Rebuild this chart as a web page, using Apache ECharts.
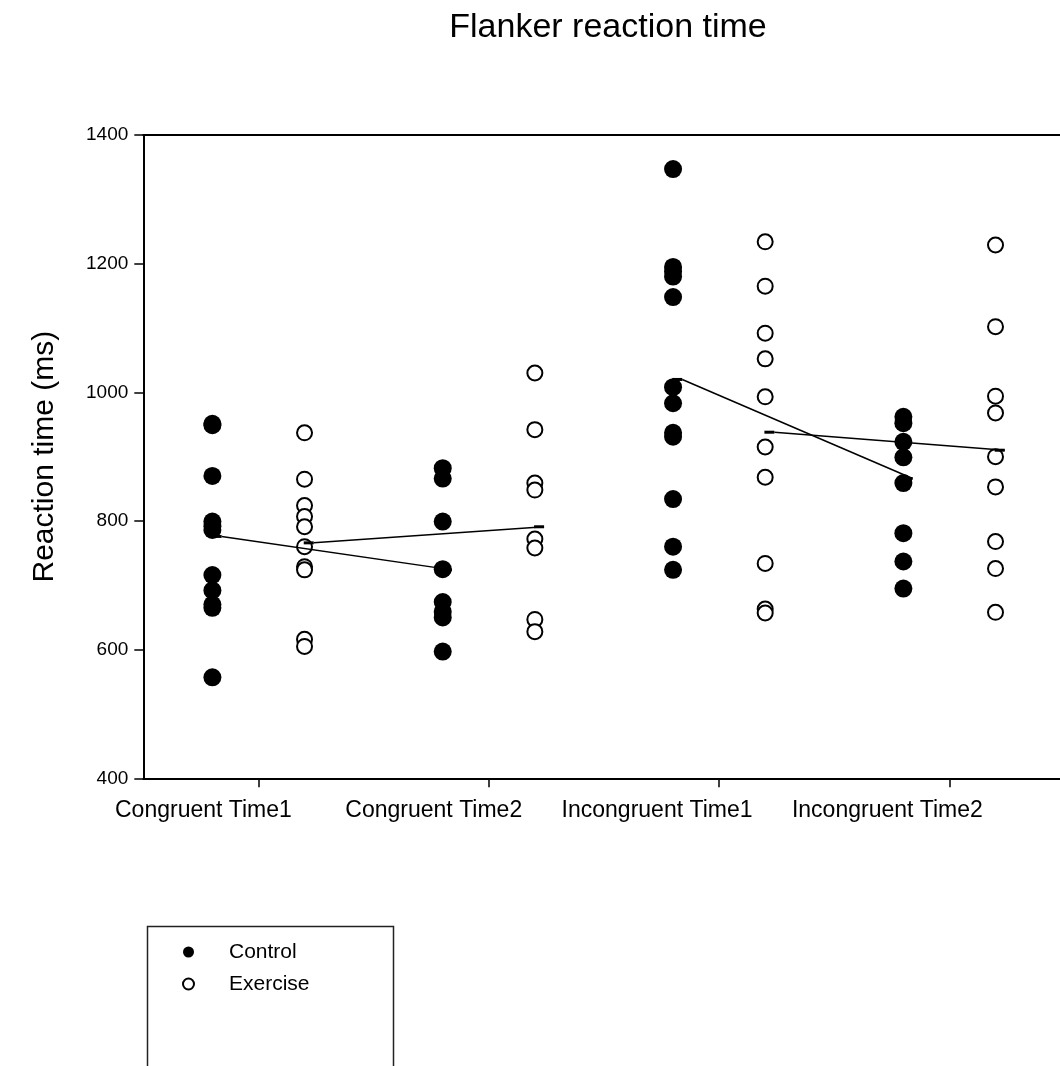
<!DOCTYPE html>
<html><head><meta charset="utf-8">
<script src="https://cdn.jsdelivr.net/npm/echarts@6/dist/echarts.min.js"></script>
<style>html,body{margin:0;padding:0;background:#fff}#c{width:1060px;height:1066px}</style>
</head><body><div id="c"></div>
<script>
const categories = ['Congruent Time1', 'Congruent Time2', 'Incongruent Time1', 'Incongruent Time2'];
const controlValues = [
  [951, 949, 870, 799, 792, 786, 716, 692, 670, 665, 557],
  [882, 866, 799, 725, 674, 659, 650, 597],
  [1347, 1195, 1188, 1180, 1148, 1008, 983, 937, 931, 834, 760, 724],
  [962, 952, 923, 899, 859, 781, 737, 695]
];
const exerciseValues = [
  [937, 865, 824, 807, 791, 760, 729, 724, 616, 605],
  [1030, 942, 859, 848, 772, 758, 647, 628],
  [1234, 1165, 1092, 1052, 993, 915, 868, 734, 663, 657],
  [1229, 1102, 994, 968, 900, 853, 768, 726, 658]
];
const controlMeans = [776, 724, 1020, 866];
const exerciseMeans = [766, 791, 938, 910];
const yTicks = [400, 600, 800, 1000, 1200, 1400];
const seriesNames = ['Control', 'Exercise'];

const OFF = 0.2, LINE_SHIFT = 0.04, LABEL_SHIFT = 0.145;
const sans = "'Liberation Sans', Arial, sans-serif";

function pts(groups, off) {
  const d = [];
  groups.forEach((g, i) => g.forEach(v => d.push([i + 1 + off, v])));
  return d;
}
function meanLine(means, off, a, b) {
  return [[a + 1 + off + LINE_SHIFT, means[a]], [b + 1 + off + LINE_SHIFT, means[b]]];
}
const lineSeries = (data) => ({
  type: 'line', data, symbol: 'rect', symbolSize: [10, 3], symbolOffset: [-5, 0],
  showSymbol: true, itemStyle: { color: '#000' }, lineStyle: { color: '#000', width: 1.5 },
  z: 5, silent: true
});

const chart = echarts.init(document.getElementById('c'));
chart.setOption({
  animation: false,
  backgroundColor: '#fff',
  title: {
    text: 'Flanker reaction time', left: 603, top: 6, textAlign: 'center',
    textStyle: { fontFamily: sans, fontSize: 34, fontWeight: 'normal', color: '#000' }
  },
  graphic: [{
    type: 'rect', left: 145, top: 924, z: 0,
    shape: { width: 246, height: 200 },
    style: { fill: 'none', stroke: '#222', lineWidth: 1.5 }
  }],
  legend: {
    orient: 'vertical', left: 145, top: 924,
    data: seriesNames,
    padding: [17, 10, 5, 37],
    itemWidth: 11, itemHeight: 11, itemGap: 10,
    textStyle: { fontFamily: sans, fontSize: 21, color: '#000', padding: [0, 0, 0, 30], lineHeight: 22 }
  },
  grid: { left: 143.3, right: 0, top: 135, bottom: 287.7, containLabel: false },
  xAxis: [{
    type: 'value', min: 0.5, max: 4.48,
    axisLine: { lineStyle: { color: '#000', width: 2 } },
    axisTick: { show: true, customValues: [1, 2, 3, 4], length: 9, lineStyle: { color: '#000', width: 1.5 } },
    axisLabel: {
      customValues: [1 + LABEL_SHIFT, 2 + LABEL_SHIFT, 3 + LABEL_SHIFT, 4 + LABEL_SHIFT],
      formatter: v => categories[Math.round(v - LABEL_SHIFT) - 1],
      align: 'right', margin: 21, hideOverlap: false,
      fontFamily: sans, fontSize: 23, color: '#000'
    },
    splitLine: { show: false }
  }, {
    type: 'value', min: 0.5, max: 4.48, position: 'top',
    axisLine: { show: true, lineStyle: { color: '#000', width: 2 } },
    axisTick: { show: false }, axisLabel: { show: false }, splitLine: { show: false }
  }],
  yAxis: {
    type: 'value', min: yTicks[0], max: yTicks[yTicks.length - 1], interval: 200,
    name: 'Reaction time (ms)', nameLocation: 'middle', nameGap: 84,
    nameTextStyle: { fontFamily: sans, fontSize: 30, color: '#000' },
    axisLine: { show: true, lineStyle: { color: '#000', width: 2 } },
    axisTick: { show: true, inside: false, length: 9, lineStyle: { color: '#000', width: 1.5 } },
    axisLabel: { margin: 15, fontFamily: sans, fontSize: 19, color: '#000', formatter: v => String(v) },
    splitLine: { show: false }
  },
  series: [
    { name: 'Control', type: 'scatter', data: pts(controlValues, -OFF), symbol: 'circle', symbolSize: 18,
      itemStyle: { color: '#000', opacity: 1 }, z: 3 },
    { name: 'Exercise', type: 'scatter', data: pts(exerciseValues, OFF), symbol: 'circle', symbolSize: 15,
      itemStyle: { color: '#fff', borderColor: '#000', borderWidth: 2, opacity: 1 }, z: 3 },
    lineSeries(meanLine(controlMeans, -OFF, 0, 1)),
    lineSeries(meanLine(controlMeans, -OFF, 2, 3)),
    lineSeries(meanLine(exerciseMeans, OFF, 0, 1)),
    lineSeries(meanLine(exerciseMeans, OFF, 2, 3))
  ]
});
</script></body></html>
